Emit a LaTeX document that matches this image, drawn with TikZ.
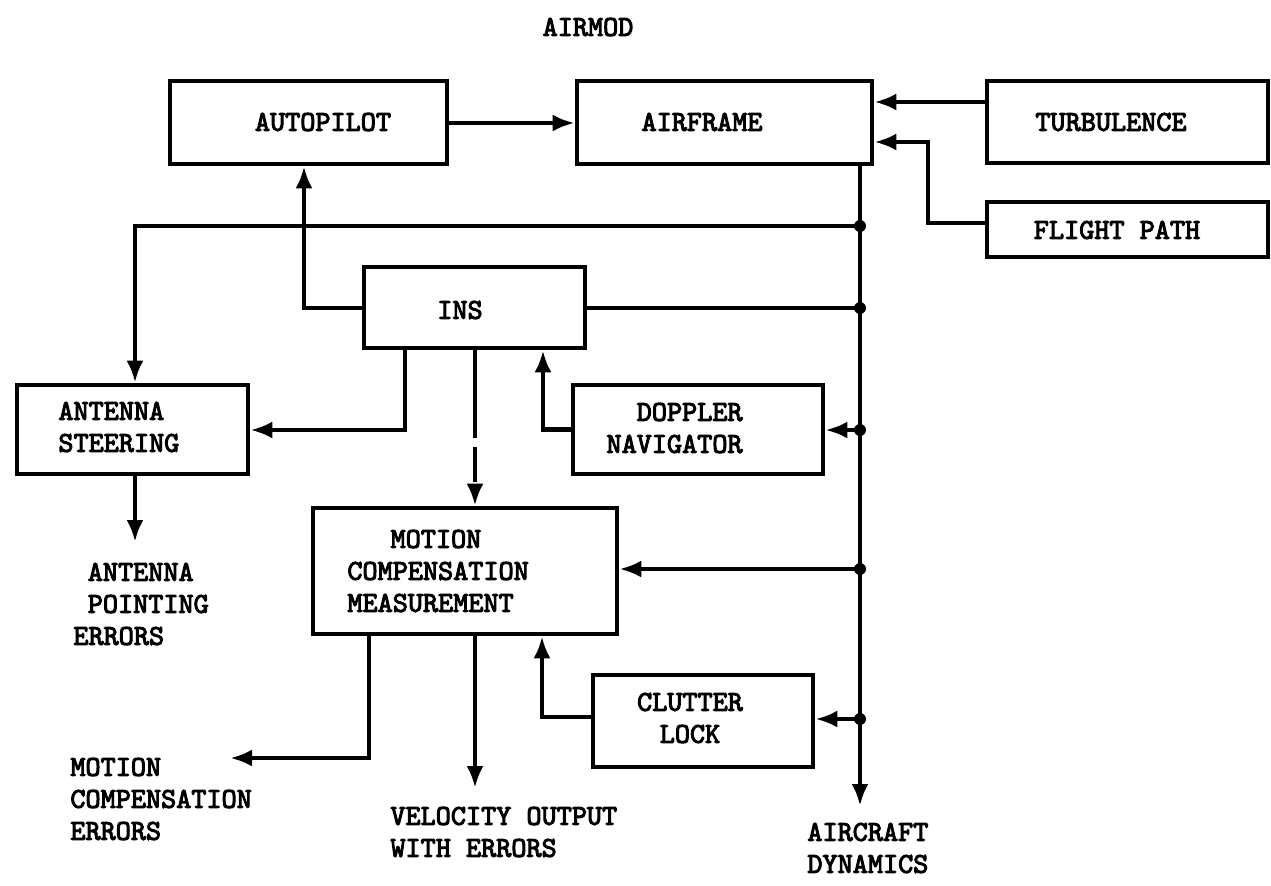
\documentclass[tikz,border=0pt]{standalone}
\usepackage{fontspec}
\newfontfamily\twfont{lmmono10-regular.otf}[FakeBold=3.5]
\usetikzlibrary{arrows.meta,fit}
\begin{document}
\begin{tikzpicture}[x=0.5pt,y=-0.5pt,
  box/.style={draw, line width=2.3pt, inner sep=0pt},
  txt/.style={font=\twfont\fontsize{14.4}{16}\selectfont, align=center, inner sep=0pt},
  wire/.style={line width=2.2pt},
  conn/.style={line width=2.2pt, -{Latex[length=11pt,width=8.5pt]}},
  jdot/.style={circle, fill, inner sep=0pt, minimum size=6pt}]
\useasboundingbox (0,0) rectangle (1271,885);
% boxes
\node[box, fit={(170,81) (447,164)}] (autopilot) {};
\node[box, fit={(577,81) (872,164)}] (airframe) {};
\node[box, fit={(987,81) (1268,163)}] (turb) {};
\node[box, fit={(987,202) (1268,257)}] (flight) {};
\node[box, fit={(364,267) (585,348)}] (ins) {};
\node[box, fit={(17,385) (248,474)}] (antenna) {};
\node[box, fit={(573,385) (823,474)}] (doppler) {};
\node[box, fit={(313,508) (617,634)}] (mcm) {};
\node[box, fit={(593,675) (813,767)}] (clutter) {};
% texts
\node[txt] (ttitle) at (588,27) {AIRMOD};
\node[txt] (tauto) at (323,122) {AUTOPILOT};
\node[txt] (tair) at (702,122) {AIRFRAME};
\node[txt] (tturb) at (1111,122) {TURBULENCE};
\node[txt] (tflight) at (1117,230) {FLIGHT PATH};
\node[txt] (tins) at (460,310) {INS};
\node[txt, align=left, anchor=west] (tant) at (58,427) {ANTENNA\\STEERING};
\node[txt, align=right, anchor=east] (tdop) at (743,428) {DOPPLER\\NAVIGATOR};
\node[txt, align=left, anchor=west] (tmcm) at (347,571) {\hspace*{1.5em}MOTION\\COMPENSATION\\MEASUREMENT};
\node[txt] (tclut) at (690,718) {CLUTTER\\LOCK};
\node[txt, align=left, anchor=west] (tape) at (73,604) {\hspace*{0.5em}ANTENNA\\\hspace*{0.5em}POINTING\\ERRORS};
\node[txt, align=left, anchor=west] (tmce) at (70,799) {MOTION\\COMPENSATION\\ERRORS};
\node[txt, align=left, anchor=west] (tvel) at (390,832) {VELOCITY OUTPUT\\WITH ERRORS};
\node[txt, align=left, anchor=west] (tacd) at (807,848) {AIRCRAFT\\DYNAMICS};
% junctions
\node[jdot] (j1) at (860,226) {};
\node[jdot] (j2) at (860,308) {};
\node[jdot] (j3) at (860,430) {};
\node[jdot] (j4) at (860,569) {};
\node[jdot] (j5) at (860,719) {};
\coordinate (busend) at (860,806);
\coordinate (antend) at (135,542);
\coordinate (mceend) at (230,758);
\coordinate (velend) at (475,788);
% connectors
\draw[conn] (autopilot.east |- 0,123) -- (airframe.west |- 0,123);
\draw[conn] (turb.west |- 0,102) -- (airframe.east |- 0,102);
\draw[conn] (flight.west |- 0,223) -| (928,142) -- (airframe.east |- 0,142);
\draw[conn] (airframe.south -| busend) -- (busend);
\draw[conn] (j1.center) -| (antenna.north -| antend);
\draw[conn] (ins.west |- 0,308) -| (autopilot.south -| 304,0);
\draw[wire] (ins.east |- j2) -- (j2.center);
\draw[conn] (ins.south -| 405,0) |- (antenna.east |- 0,430);
\draw[conn, dash pattern=on 44pt off 4.5pt on 17.5pt off 20pt] (ins.south -| 475,0) -- (mcm.north -| 475,0);
\draw[conn] (doppler.west) -| (ins.south -| 543,0);
\draw[conn] (j3.center) -- (doppler.east |- j3.center);
\draw[conn] (j4.center) -- (mcm.east |- j4.center);
\draw[conn] (antenna.south -| antend) -- (antend);
\draw[conn] (mcm.south -| 369,0) |- (mceend);
\draw[conn] (mcm.south -| velend) -- (velend);
\draw[conn] (clutter.west |- 0,717) -| (mcm.south -| 542,0);
\draw[conn] (j5.center) -- (clutter.east |- j5.center);
\end{tikzpicture}
\end{document}
